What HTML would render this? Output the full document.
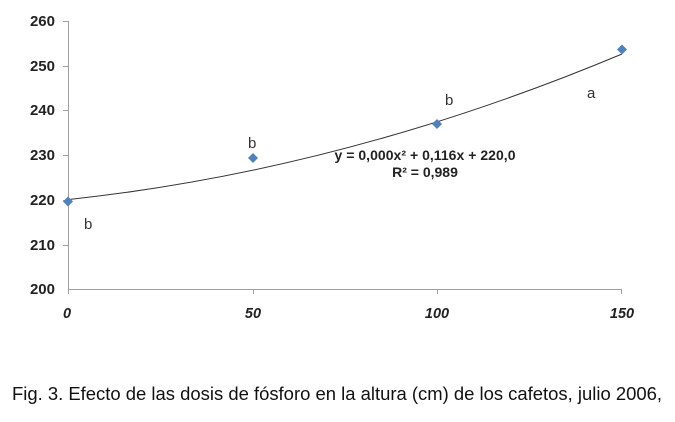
<!DOCTYPE html>
<html><head><meta charset="utf-8"><style>
body{margin:0;background:#fff;width:675px;height:417px;overflow:hidden}
</style></head><body>
<svg width="675" height="417" xmlns="http://www.w3.org/2000/svg" font-family="Liberation Sans, sans-serif">
<g stroke="#a0a0a0" stroke-width="1">
<line x1="68.5" y1="21" x2="68.5" y2="289.5"/>
<line x1="68" y1="289.5" x2="622" y2="289.5"/>
<line x1="63" y1="21.5" x2="68" y2="21.5"/>
<line x1="63" y1="66.5" x2="68" y2="66.5"/>
<line x1="63" y1="110.5" x2="68" y2="110.5"/>
<line x1="63" y1="155.5" x2="68" y2="155.5"/>
<line x1="63" y1="200.5" x2="68" y2="200.5"/>
<line x1="63" y1="245.5" x2="68" y2="245.5"/>
<line x1="253.5" y1="289" x2="253.5" y2="294"/>
<line x1="437.5" y1="289" x2="437.5" y2="294"/>
<line x1="621.5" y1="289" x2="621.5" y2="294"/>
<line x1="68.5" y1="289" x2="68.5" y2="294"/>
</g>
<g font-size="15" font-weight="bold" fill="#222" text-anchor="end">
<text x="55" y="26">260</text><text x="55" y="71">250</text><text x="55" y="115">240</text>
<text x="55" y="160">230</text><text x="55" y="205">220</text><text x="55" y="250">210</text><text x="55" y="294">200</text>
</g>
<g font-size="14.5" font-weight="bold" font-style="italic" fill="#222" text-anchor="middle">
<text x="67" y="318">0</text><text x="253" y="318">50</text><text x="437" y="318">100</text><text x="622" y="318">150</text>
</g>
<path d="M68,199.6 Q345,170 622,54" fill="none" stroke="#333" stroke-width="1"/>
<g fill="#4f81bd">
<path d="M68,196.5 l5,5 -5,5 -5,-5z"/>
<path d="M253,153 l5,5 -5,5 -5,-5z"/>
<path d="M437,119 l5,5 -5,5 -5,-5z"/>
<path d="M622,44.5 l5,5 -5,5 -5,-5z"/>
</g>
<g font-size="15" fill="#333">
<text x="84" y="229">b</text><text x="248" y="148">b</text><text x="445" y="105">b</text><text x="587" y="98">a</text>
</g>
<g font-size="14" font-weight="bold" fill="#222" text-anchor="middle">
<text x="425" y="160" textLength="181">y = 0,000x² + 0,116x + 220,0</text>
<text x="425" y="177">R² = 0,989</text>
</g>
<text x="12" y="400" font-size="18" fill="#111" textLength="650" lengthAdjust="spacingAndGlyphs">Fig. 3. Efecto de las dosis de fósforo en la altura (cm) de los cafetos, julio 2006,</text>
</svg>
</body></html>
